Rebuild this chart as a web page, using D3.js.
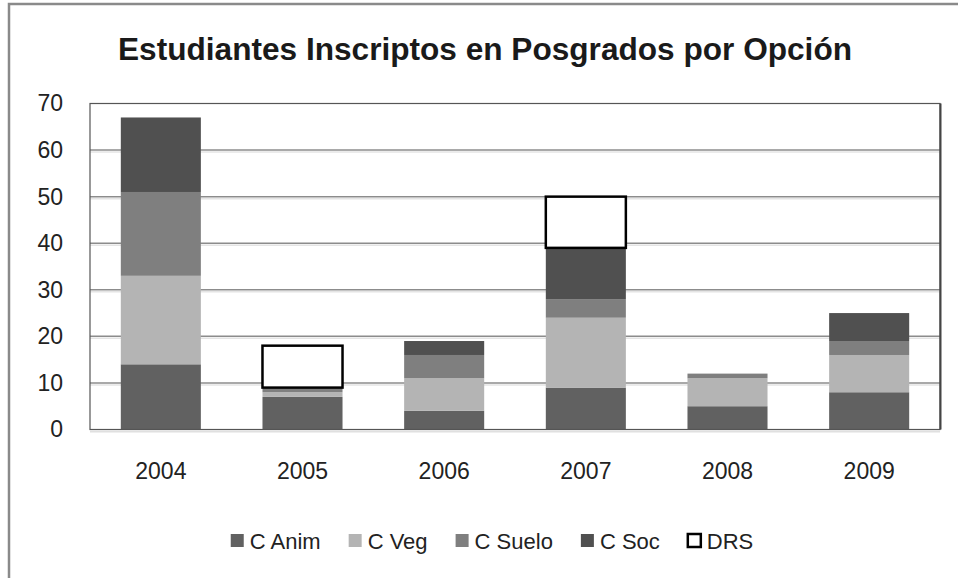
<!DOCTYPE html>
<html>
<head>
<meta charset="utf-8">
<script src="https://cdn.jsdelivr.net/npm/d3@7"></script>
<style>
  body { margin: 0; background: #fff; }
  svg { display: block; }
</style>
</head>
<body>
<div id="container"></div>
<script>
const years = ["2004", "2005", "2006", "2007", "2008", "2009"];
const seriesNames = ["C Anim", "C Veg", "C Suelo", "C Soc", "DRS"];
const cAnim  = [14, 7, 4, 9, 5, 8];
const cVeg   = [19, 1, 7, 15, 6, 8];
const cSuelo = [18, 1, 5, 4, 1, 3];
const cSoc   = [16, 0, 3, 11, 0, 6];
const drs    = [0, 9, 0, 11, 0, 0];
const yTicks = [0, 10, 20, 30, 40, 50, 60, 70];

const fills = ["#616161", "#b4b4b4", "#7f7f7f", "#505050", "#ffffff"];

const width = 958, height = 578;
const plot = { left: 90, right: 940, top: 103.5, bottom: 429.5 };
const font = "'Liberation Sans', Arial, sans-serif";

// rows for d3.stack
const rows = years.map((y, i) => ({
  year: y,
  "C Anim": cAnim[i], "C Veg": cVeg[i], "C Suelo": cSuelo[i], "C Soc": cSoc[i], "DRS": drs[i]
}));
const stacked = d3.stack().keys(seriesNames)(rows);

const svg = d3.select("#container").append("svg")
  .attr("width", width).attr("height", height);

// outer chart frame
svg.append("rect")
  .attr("x", 9).attr("y", 4)
  .attr("width", width + 20).attr("height", height + 20)
  .attr("fill", "#fff").attr("stroke", "#8a8a8a").attr("stroke-width", 2.5);

const xScale = d3.scaleBand()
  .domain(years)
  .range([plot.left, plot.right])
  .paddingInner(0.435).paddingOuter(0.2175);

const yScale = d3.scaleLinear()
  .domain([0, 70])
  .range([plot.bottom, plot.top]);

// gridlines
const grid = yTicks.filter(t => t > 0 && t < 70);
svg.append("g").selectAll("line")
  .data(grid)
  .enter().append("line")
  .attr("x1", plot.left).attr("x2", plot.right)
  .attr("y1", d => yScale(d)).attr("y2", d => yScale(d))
  .attr("stroke", "#8c8c8c").attr("stroke-width", 1.5);
svg.append("g").selectAll("line")
  .data(grid)
  .enter().append("line")
  .attr("x1", plot.left).attr("x2", plot.right)
  .attr("y1", d => yScale(d) + 2).attr("y2", d => yScale(d) + 2)
  .attr("stroke", "#e4e4e4").attr("stroke-width", 1.5);

// bars
const layers = svg.append("g").selectAll("g")
  .data(stacked)
  .enter().append("g")
  .attr("fill", (d, i) => fills[i]);

layers.selectAll("rect")
  .data(d => d.map(v => ({ v, key: d.key })).filter(o => o.v[1] - o.v[0] > 0))
  .enter().append("rect")
  .attr("x", d => xScale(d.v.data.year))
  .attr("y", d => yScale(d.v[1]))
  .attr("width", xScale.bandwidth())
  .attr("height", d => yScale(d.v[0]) - yScale(d.v[1]))
  .attr("stroke", d => d.key === "DRS" ? "#000" : "none")
  .attr("stroke-width", d => d.key === "DRS" ? 2.5 : 0);

// plot area border
svg.append("rect")
  .attr("x", plot.left).attr("y", plot.top)
  .attr("width", plot.right - plot.left).attr("height", plot.bottom - plot.top)
  .attr("fill", "none").attr("stroke", "#555").attr("stroke-width", 1.2);
svg.append("line")
  .attr("x1", plot.right + 0.5).attr("x2", plot.right + 0.5)
  .attr("y1", plot.top).attr("y2", plot.bottom)
  .attr("stroke", "#444").attr("stroke-width", 2);
svg.append("line")
  .attr("x1", plot.left).attr("x2", plot.right)
  .attr("y1", plot.bottom + 2).attr("y2", plot.bottom + 2)
  .attr("stroke", "#e0e0e0").attr("stroke-width", 2);

// axes
const yAxis = d3.axisLeft(yScale).tickValues(yTicks).tickSize(0).tickPadding(27);
const gy = svg.append("g")
  .attr("transform", "translate(" + plot.left + ",0)")
  .call(yAxis);
gy.select(".domain").remove();
gy.selectAll("text")
  .attr("font-family", font).attr("font-size", 23).attr("fill", "#222");

const xAxis = d3.axisBottom(xScale).tickSize(0).tickPadding(33);
const gx = svg.append("g")
  .attr("transform", "translate(0," + plot.bottom + ")")
  .call(xAxis);
gx.select(".domain").remove();
gx.selectAll("text")
  .attr("font-family", font).attr("font-size", 23).attr("fill", "#222");

// title
svg.append("text")
  .attr("x", 485).attr("y", 60)
  .attr("text-anchor", "middle")
  .attr("font-family", font).attr("font-weight", "bold").attr("font-size", 31)
  .attr("textLength", 734).attr("lengthAdjust", "spacingAndGlyphs")
  .attr("fill", "#1a1a1a")
  .text("Estudiantes Inscriptos en Posgrados por Opción");

// legend
const legend = svg.append("g");
let lx = 0;
seriesNames.forEach((name, i) => {
  const item = legend.append("g").attr("transform", "translate(" + lx + ",0)");
  item.append("rect")
    .attr("x", 0).attr("y", -7).attr("width", 13).attr("height", 13)
    .attr("fill", fills[i])
    .attr("stroke", name === "DRS" ? "#000" : "none")
    .attr("stroke-width", name === "DRS" ? 2.5 : 0);
  const t = item.append("text")
    .attr("x", 19).attr("y", 8)
    .attr("font-family", font).attr("font-size", 22).attr("fill", "#222")
    .text(name);
  lx += 19 + t.node().getComputedTextLength() + 28;
});
const legendW = lx - 28;
legend.attr("transform", "translate(" + (492 - legendW / 2) + ",541)");
</script>
</body>
</html>
